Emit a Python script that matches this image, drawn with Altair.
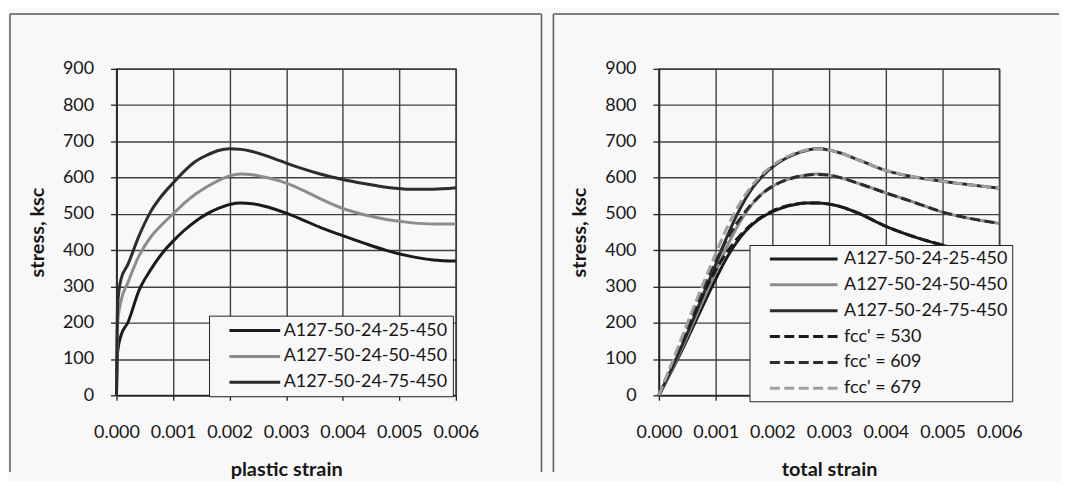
import altair as alt
import pandas as pd

FONT = "Lato"
BG = "#f8f8f8"
TXT = "#161616"
GRID = "#404040"
AXC = "#222222"
FRAME = "#5a5a5a"

SOLID_NAMES = ["A127-50-24-25-450", "A127-50-24-50-450", "A127-50-24-75-450"]
DASH_NAMES = ["fcc' = 530", "fcc' = 609", "fcc' = 679"]

X_TICKS = [0.0, 0.001, 0.002, 0.003, 0.004, 0.005, 0.006]
Y_TICKS = [0, 100, 200, 300, 400, 500, 600, 700, 800, 900]

# ---- left panel: stress vs plastic strain ----
PLASTIC_STRAIN = [0.0, 0.00002, 0.00008, 0.0002, 0.0004, 0.0006, 0.0008, 0.001, 0.0012,
                  0.0014, 0.0016, 0.0018, 0.002, 0.0022, 0.0024, 0.0026, 0.0028, 0.003,
                  0.0033, 0.0036, 0.004, 0.0044, 0.0048, 0.0052, 0.0056, 0.006]
PLASTIC_25 = [0, 120, 165, 200, 290, 345, 390, 425, 455, 480, 500, 515, 526, 530, 528, 522,
              513, 502, 483, 463, 440, 418, 398, 383, 373, 370]
PLASTIC_50 = [0, 200, 260, 310, 385, 435, 470, 500, 530, 555, 575, 592, 605, 610, 608, 602,
              595, 585, 565, 542, 515, 497, 484, 476, 472, 472]
PLASTIC_75 = [0, 250, 320, 360, 440, 505, 550, 585, 618, 645, 662, 675, 680, 678, 672, 663,
              652, 640, 624, 610, 595, 583, 573, 568, 568, 572]

# ---- right panel: stress vs total strain ----
TOTAL_STRAIN = [0.0, 0.0002, 0.0004, 0.0006, 0.0008, 0.001, 0.0012, 0.0014, 0.0016, 0.0018,
                0.002, 0.0022, 0.0024, 0.0026, 0.0028, 0.003, 0.0032, 0.0035, 0.004, 0.0045,
                0.005, 0.0055, 0.006]
TOTAL_25 = [0, 60, 122, 188, 255, 320, 380, 428, 464, 489, 506, 518, 526, 530, 530, 527, 520,
            503, 466, 437, 414, 395, 380]
TOTAL_50 = [0, 62, 128, 198, 270, 340, 410, 470, 518, 553, 576, 591, 601, 607, 610, 607, 600,
            585, 558, 532, 505, 487, 474]
TOTAL_75 = [0, 65, 135, 208, 285, 360, 437, 505, 560, 600, 629, 650, 665, 675, 680, 676, 668,
            650, 620, 602, 590, 580, 571]
FCC_530 = [0, 72, 146, 218, 285, 345, 395, 435, 467, 491, 508, 520, 527, 530, 530, 527, 520,
           503, 466, 437, 414, 395, 380]
FCC_609 = [0, 75, 152, 228, 300, 368, 430, 480, 521, 553, 576, 591, 601, 607, 609, 607, 600,
           585, 558, 532, 505, 487, 474]
FCC_679 = [0, 78, 158, 238, 315, 390, 462, 522, 570, 606, 633, 653, 667, 676, 679, 676, 668,
           650, 620, 602, 590, 580, 571]

LEFT_COLORS = ["#1a1a1a", "#8c8c8c", "#2c2c2c"]
RIGHT_COLORS = ["#1a1a1a", "#8c8c8c", "#2c2c2c", "#1a1a1a", "#2c2c2c", "#a0a0a0"]
DASH = [10, 4.5]


def make_df(strain, pairs):
    rows = []
    for name, vals in pairs:
        for s, v in zip(strain, vals):
            rows.append({"strain": s, "stress": v, "series": name})
    return pd.DataFrame(rows)


left_df = make_df(PLASTIC_STRAIN, list(zip(SOLID_NAMES, [PLASTIC_25, PLASTIC_50, PLASTIC_75])))
right_df = make_df(TOTAL_STRAIN, list(zip(SOLID_NAMES + DASH_NAMES,
                                          [TOTAL_25, TOTAL_50, TOTAL_75, FCC_530, FCC_609, FCC_679])))


def x_enc(title):
    return alt.X("strain:Q", scale=alt.Scale(domain=[0, 0.006], nice=False, zero=False),
                 axis=alt.Axis(values=X_TICKS, format=".3f", title=title, grid=True,
                               gridColor=GRID, gridWidth=1.4, domainColor=AXC, domainWidth=1.5,
                               tickColor=AXC, tickSize=5, tickWidth=1.3, labelPadding=23,
                               labelFlush=False, labelOverlap=False, labelFont=FONT,
                               labelFontSize=18, labelColor=TXT, titleFont=FONT,
                               titleFontSize=20, titleFontWeight="bold", titleColor=TXT,
                               titlePadding=19))


def y_enc():
    return alt.Y("stress:Q", scale=alt.Scale(domain=[0, 900], nice=False),
                 axis=alt.Axis(values=Y_TICKS, title="stress, ksc", grid=True, gridColor=GRID,
                               gridWidth=1.4, domainColor=AXC, domainWidth=1.5, tickColor=AXC,
                               tickSize=6, tickWidth=1.3, labelPadding=17, labelOverlap=False,
                               labelFont=FONT, labelFontSize=18, labelColor=TXT,
                               titleFont=FONT, titleFontSize=20, titleFontWeight="bold",
                               titleColor=TXT, titlePadding=15))


def legend(lx, ly, path, s_off, l_off, pad):
    return alt.Legend(title=None, orient="none", legendX=lx, legendY=ly, symbolType=path,
                      symbolSize=289, symbolStrokeWidth=3, symbolOffset=s_off,
                      labelOffset=l_off, labelFont=FONT, labelFontSize=18, labelColor=TXT,
                      labelLimit=400, rowPadding=7, padding=pad, strokeColor="#222222",
                      fillColor=BG)


one = pd.DataFrame({"k": [0]})


def rule(x1, x2, y1, y2):
    return alt.Chart(one).mark_rule(color=FRAME, strokeWidth=1.5).encode(
        x=alt.value(x1), x2=alt.value(x2), y=alt.value(y1), y2=alt.value(y2))


left_leg = legend(93, 248, "M-1,0H5", 14, 36, 5)
left_lines = alt.Chart(left_df).mark_line(strokeWidth=3, interpolate="monotone").encode(
    x=x_enc("plastic strain"),
    y=y_enc(),
    color=alt.Color("series:N", scale=alt.Scale(domain=SOLID_NAMES, range=LEFT_COLORS),
                    legend=left_leg),
)
left = alt.layer(
    rule(-107, 427, -55, -55), rule(-107, -107, -55, 405), rule(427, 427, -55, 405),
    left_lines,
).properties(width=341, height=328)

right_leg = legend(91, 177, "M-1,0H7", 15, 56, 4)
all_names = SOLID_NAMES + DASH_NAMES
right_lines = alt.Chart(right_df).mark_line(strokeWidth=3, interpolate="monotone").encode(
    x=x_enc("total strain"),
    y=y_enc(),
    color=alt.Color("series:N", scale=alt.Scale(domain=all_names, range=RIGHT_COLORS),
                    legend=right_leg),
    strokeDash=alt.StrokeDash("series:N",
                              scale=alt.Scale(domain=all_names,
                                              range=[[1, 0], [1, 0], [1, 0], DASH, DASH, DASH]),
                              legend=right_leg),
)
right = alt.layer(
    rule(-106, 402, -55, -55), rule(-106, -106, -55, 405),
    right_lines,
).properties(width=342, height=328)

chart = alt.hconcat(left, right, spacing=8).resolve_scale(
    color="independent", strokeDash="independent"
).resolve_legend(color="independent", strokeDash="independent").properties(
    padding={"left": 0, "top": 3, "right": 0, "bottom": 0},
    background=BG,
).configure_view(stroke=GRID, strokeWidth=1.4)

chart.save("out.html", embed_options={"renderer": "svg", "actions": False})
